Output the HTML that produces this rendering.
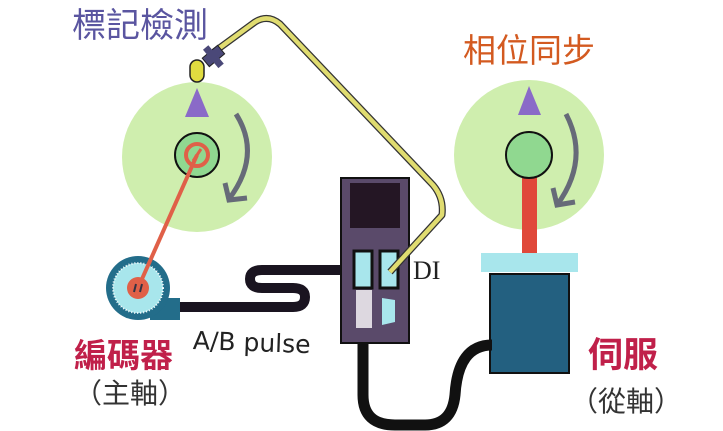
<!DOCTYPE html>
<html><head><meta charset="utf-8"><style>
html,body{margin:0;padding:0;background:#fff;}
svg{display:block}
</style></head><body>
<svg width="723" height="431" viewBox="0 0 723 431" xmlns="http://www.w3.org/2000/svg">
<!-- left disk -->
<circle cx="197" cy="157" r="75" fill="#cfeeae"/>
<polygon points="197,88 185,117 209,117" fill="#8a6ac8"/>
<circle cx="197" cy="155" r="22" fill="#90d890" stroke="#111" stroke-width="2"/>
<path d="M236,114 Q262,155 229,199" fill="none" stroke="#666a78" stroke-width="5"/>
<path d="M225,183 L229,200 L247,198" fill="none" stroke="#666a78" stroke-width="5"/>
<!-- right disk -->
<circle cx="529" cy="155" r="75" fill="#cfeeae"/>
<polygon points="529,86 518,115 541,115" fill="#8a6ac8"/>
<path d="M566,114 Q590,160 557,205" fill="none" stroke="#666a78" stroke-width="5"/>
<path d="M553,188 L557,205 L575,202" fill="none" stroke="#666a78" stroke-width="5"/>
<rect x="522" y="176" width="15" height="78" fill="#e0483a"/>
<circle cx="529" cy="155" r="23" fill="#90d890" stroke="#111" stroke-width="2"/>
<rect x="481" y="253" width="97" height="19" fill="#a8e6ec"/>
<rect x="490" y="274" width="79" height="99" fill="#236080" stroke="#111" stroke-width="2"/>
<!-- black cables -->
<path d="M180,307 L293,307 Q305,307 305,297 Q305,288 293,288 L262,288 Q250,288 250,279 Q250,270 262,270 L365,270" fill="none" stroke="#1a1420" stroke-width="10"/>
<path d="M363,328 L363,395 Q363,425 395,425 L425,425 Q452,425 455,395 Q458,345 492,345" fill="none" stroke="#111" stroke-width="11"/>
<!-- drive -->
<rect x="341" y="178" width="68" height="165" fill="#5a4a6a" stroke="#111" stroke-width="2"/>
<rect x="350" y="183" width="50" height="45" fill="#241624"/>
<rect x="354" y="251" width="18" height="37" fill="#a8e6ec" stroke="#111" stroke-width="3"/>
<rect x="380" y="251" width="18" height="37" fill="#a8e6ec" stroke="#111" stroke-width="3"/>
<rect x="356" y="290" width="16" height="38" fill="#ddd8e0"/>
<polygon points="382,298 395,300 395,322 382,325" fill="#a8e6ec"/>
<!-- yellow cable -->
<path d="M214,52 L255,22 Q268,14 280,24 L433,185 Q444,198 442,215 L390,272" fill="none" stroke="#333" stroke-width="7" stroke-linejoin="round"/>
<path d="M214,52 L255,22 Q268,14 280,24 L433,185 Q444,198 442,215 L390,272" fill="none" stroke="#e0dc70" stroke-width="4.5" stroke-linejoin="round"/>
<!-- sensor -->
<rect x="190" y="60" width="14" height="22" rx="7" fill="#e0dc40" stroke="#222" stroke-width="1.5"/>
<g transform="rotate(-40 213 57)"><rect x="204" y="51" width="20" height="11" fill="#4a4878" stroke="#222" stroke-width="1"/><rect x="210" y="45" width="7" height="24" fill="#4a4878"/></g>
<!-- encoder -->
<rect x="150" y="298" width="30" height="22" fill="#236d8a"/>
<circle cx="138" cy="288" r="32" fill="#236d8a"/>
<circle cx="138" cy="288" r="25" fill="#a8e6ec" stroke="#fff" stroke-width="2" stroke-dasharray="1 2"/>
<line x1="138" y1="288" x2="197" y2="155" stroke="#e06048" stroke-width="4"/>
<circle cx="138" cy="288" r="11" fill="#e06048"/>
<path d="M134,292 L136,284 M140,292 L142,284" stroke="#334" stroke-width="2"/>
<circle cx="197" cy="155" r="11" fill="none" stroke="#e06048" stroke-width="4"/>
<line x1="193" y1="161" x2="201" y2="149" stroke="#e06048" stroke-width="3"/>
<!-- labels -->
<text x="72" y="37" font-family="Liberation Sans, Noto Sans CJK TC, sans-serif" font-size="34" fill="#5a55a0">標記檢測</text>
<text x="463" y="62" font-family="Liberation Sans, Noto Sans CJK TC, sans-serif" font-size="33" fill="#d35a20">相位同步</text>
<text x="74" y="367" font-family="Liberation Sans, Noto Sans CJK TC, sans-serif" font-size="33" font-weight="bold" fill="#c0204a">編碼器</text>
<text x="74" y="403" font-family="Noto Sans CJK TC, sans-serif" font-size="28" fill="#333">（主軸）</text>
<text x="588" y="367" font-family="Liberation Sans, Noto Sans CJK TC, sans-serif" font-size="35" font-weight="bold" fill="#c0204a">伺服</text>
<text x="570" y="411" font-family="Noto Sans CJK TC, sans-serif" font-size="28" fill="#333">（從軸）</text>
<text x="413" y="279" font-family="Liberation Serif, serif" font-size="26" fill="#222">DI</text>
<text x="193" y="351" font-family="DejaVu Sans, sans-serif" font-size="25" fill="#222" transform="rotate(2 250 340)">A/B pulse</text>
</svg>
</body></html>
